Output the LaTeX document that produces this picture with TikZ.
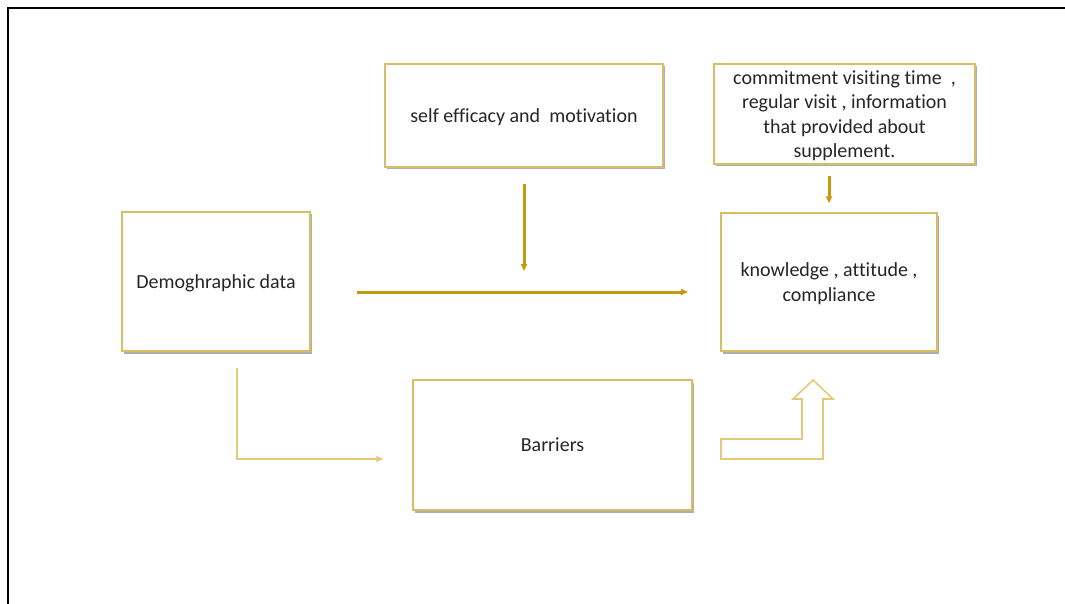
\documentclass[tikz,border=0pt]{standalone}
\usepackage{fontspec}
\setmainfont{Carlito}[Ligatures=NoCommon]
\usetikzlibrary{arrows.meta,shadows}
\definecolor{boxgold}{HTML}{D9BC66}
\definecolor{arrgold}{HTML}{C59B0C}
\definecolor{palegold}{HTML}{E3C978}
\definecolor{txt}{HTML}{262626}

\begin{document}
\begin{tikzpicture}[x=1pt,y=-1pt,>={Triangle[length=7pt,width=6pt]},
  box/.style={draw=boxgold,line width=1.4pt,fill=white,align=center,text=txt,
    font=\fontsize{20}{24.5}\selectfont,inner sep=2pt,text depth=0pt,
    drop shadow={shadow xshift=2pt,shadow yshift=-2.5pt,fill=black!45,opacity=.7}},
  goldarrow/.style={->,draw=arrgold,fill=arrgold,line width=3pt},
  thinarrow/.style={->,draw=palegold,line width=1.6pt}]
  \useasboundingbox (0,0) rectangle (1065,604);
  % 枠
  \draw[line width=2.5pt] (1065,8) -- (8,8) -- (8,604);
  \node[box,minimum width=278pt,minimum height=103pt] (selfeff) at (524,115.5)
    {self efficacy and\ \ motivation};
  \node[box,minimum width=261pt,minimum height=100pt] (commit) at (844.5,114)
    {commitment visiting time\ \ ,\\ regular visit , information\\ that provided about\\ supplement.};
  \node[box,minimum width=188pt,minimum height=139pt] (demo) at (216,281.5) {Demoghraphic data};
  \node[box,minimum width=216pt,minimum height=138pt] (know) at (829,282)
    {knowledge , attitude ,\\ compliance};
  \node[box,minimum width=279pt,minimum height=130pt] (barriers) at (552.5,445) {Barriers};
  \coordinate (hstart) at (357,292);
  \coordinate (hend) at (688,292);
  \coordinate (elbow) at (237,459);
  \draw[goldarrow] (hstart) -- (hend);
  \draw[goldarrow,shorten <=16pt,shorten >=21pt] (selfeff.south) -- (selfeff.south |- hstart);
  \draw[goldarrow,shorten <=11pt,shorten >=9pt] (commit.south -| know.north) -- (know.north);
  \draw[thinarrow,shorten >=29pt] (demo.south -| elbow) ++(0,16) -- (elbow) -- (elbow -| barriers.west);
  % 上向きの矢印
  \draw[palegold,line width=1.6pt,line join=miter] (721,439) -- (802,439) -- (802,399) -- (793,399)
    -- (813,380) -- (833,399) -- (823,399) -- (823,459) -- (721,459) -- cycle;
\end{tikzpicture}
\end{document}
